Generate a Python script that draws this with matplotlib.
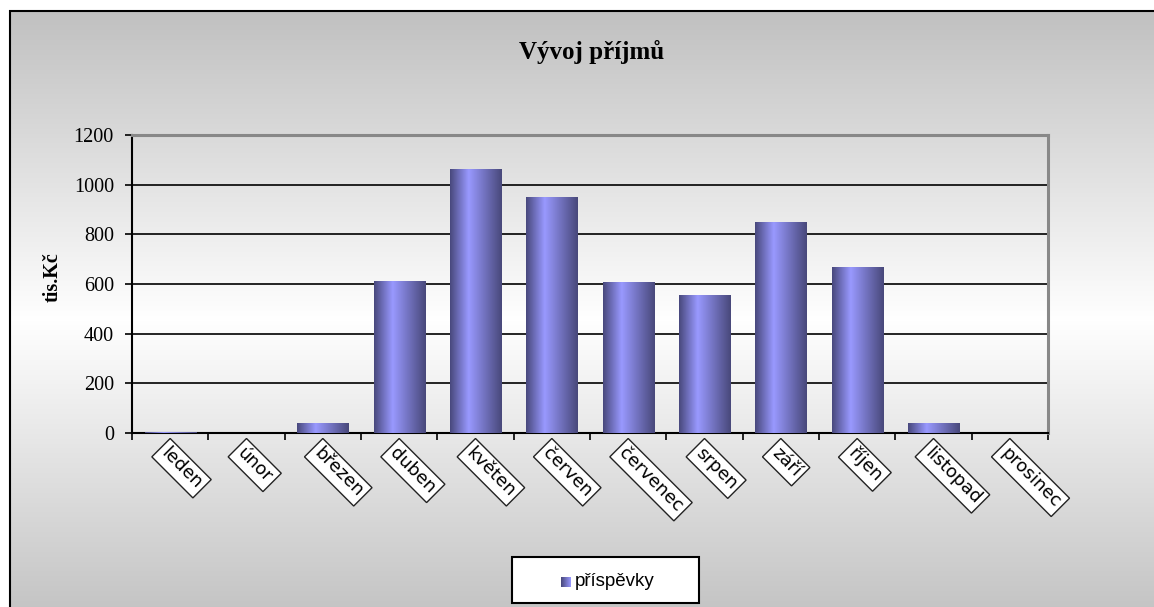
import numpy as np
import matplotlib
matplotlib.use('Agg')
import matplotlib.pyplot as plt
from matplotlib.colors import LinearSegmentedColormap
from matplotlib.patches import Rectangle

# ---- data ----
months = ['leden', 'únor', 'březen', 'duben', 'květen', 'červen',
          'červenec', 'srpen', 'září', 'říjen', 'listopad', 'prosinec']
prispevky = [4, 0, 42, 612, 1063, 950, 610, 557, 850, 668, 42, 0]
yticks = [0, 200, 400, 600, 800, 1000, 1200]
title = 'Vývoj příjmů'
ylabel = 'tis.Kč'
series_name = 'příspěvky'

W, H = 1154, 607
fig = plt.figure(figsize=(W / 100, H / 100), dpi=100)

# ---- background gradient + chart frame ----
bg = fig.add_axes([0, 0, 1, 1])
bg.set_axis_off()
rows = np.arange(H)
v = 255 - 63 * np.abs(rows - 320) / 310
img = np.clip(np.repeat(v[:, None], W, axis=1) / 255, 0, 1)
img[:10, :] = 1
img[:, :9] = 1
bg.imshow(np.dstack([img] * 3), extent=[0, W, H, 0], aspect='auto', zorder=0)
bg.set_xlim(0, W)
bg.set_ylim(H, 0)
bg.plot([9, W], [11, 11], color='black', lw=1.5, solid_capstyle='butt')
bg.plot([10, 10], [10, H], color='black', lw=1.5, solid_capstyle='butt')

# ---- main axes ----
ax = fig.add_axes([132 / W, 1 - 433 / H, (1048 - 132) / W, (433 - 135) / H])
ax.patch.set_alpha(0)
x = np.arange(len(months))
bars = ax.bar(x, prispevky, width=0.67, color='none', zorder=3)

cmap = LinearSegmentedColormap.from_list(
    'barg', [(0.0, '#48487c'), (0.36, '#9999ff'), (1.0, '#48487a')])
grad = np.linspace(0, 1, 256)[None, :]
for b in bars:
    h = b.get_height()
    if h <= 0:
        continue
    im = ax.imshow(grad, cmap=cmap,
                   extent=[b.get_x(), b.get_x() + b.get_width(), 0, h],
                   aspect='auto', zorder=3)
    im.set_clip_path(b)

ax.set_xlim(-0.5, len(months) - 0.5)
ax.set_ylim(yticks[0], yticks[-1])
ax.set_yticks(yticks)
ax.set_yticklabels([str(t) for t in yticks], fontfamily='Liberation Serif',
                   fontsize=14.5)
ax.yaxis.grid(True, color='black', lw=1.2)
ax.set_axisbelow(True)
ax.set_xticks(np.arange(-0.5, len(months), 1))
ax.set_xticklabels([])
ax.tick_params(axis='x', direction='out', length=5, width=1.2, color='black')
ax.tick_params(axis='y', direction='out', length=5, width=1.2, pad=8,
               color='black')
for s in ['left', 'bottom']:
    ax.spines[s].set_color('black')
    ax.spines[s].set_linewidth(1.5)
for s in ['top', 'right']:
    ax.spines[s].set_color('#888888')
    ax.spines[s].set_linewidth(2.2)

# category labels, rotated in white boxes
for i, m in enumerate(months):
    ax.annotate(m, xy=(i, 0), xycoords=('data', 'axes fraction'),
                xytext=(0, -8), textcoords='offset points',
                rotation=-45, rotation_mode='anchor', ha='left', va='top',
                fontsize=13, family='DejaVu Sans',
                bbox=dict(boxstyle='square,pad=0.22', fc='white',
                          ec='#222222', lw=1))

# title and axis label
fig.text(592 / W, 1 - 52 / H, title, ha='center', va='center', fontsize=18,
         fontweight='bold', family='Liberation Serif')
fig.text(53 / W, 1 - 277 / H, ylabel, rotation=90, ha='center', va='center',
         fontsize=14.5, fontweight='bold', family='Liberation Serif')

# legend
fig.patches.append(Rectangle((512 / W, 1 - 603 / H), (699 - 512) / W,
                             (603 - 557) / H, transform=fig.transFigure,
                             fc='white', ec='black', lw=1.5, zorder=5))
lax = fig.add_axes([561 / W, 1 - 587 / H, 10 / W, 10 / H], zorder=6)
lax.imshow(np.linspace(0, 0.36, 64)[None, :], cmap=cmap, vmin=0, vmax=1,
           aspect='auto', extent=[0, 1, 0, 1])
lax.set_axis_off()
fig.text(575 / W, 1 - 582 / H, series_name, ha='left', va='center',
         fontsize=13.5, family='Liberation Sans', zorder=7)

fig.savefig('out.png', dpi=100)
